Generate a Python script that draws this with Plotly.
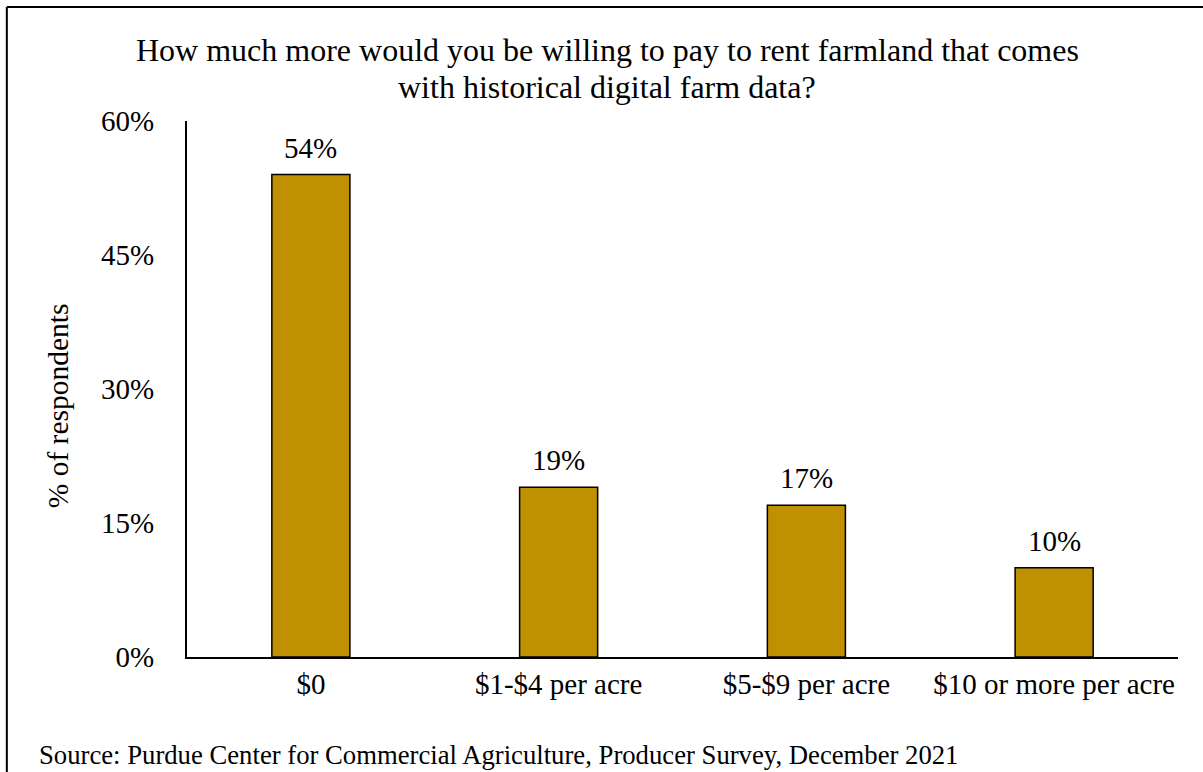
import plotly.graph_objects as go

# Survey responses
categories = ["$0", "$1-$4 per acre", "$5-$9 per acre", "$10 or more per acre"]
shares = [54, 19, 17, 10]
share_labels = ["54%", "19%", "17%", "10%"]
y_ticks = [0, 15, 30, 45, 60]
y_tick_labels = ["0%", "15%", "30%", "45%", "60%"]

FONT = "Liberation Serif, Times New Roman, serif"
BAR_COLOR = "#BF9000"
TEXT_SIZE = 29

fig = go.Figure(
    go.Bar(
        x=categories,
        y=shares,
        marker=dict(color=BAR_COLOR, line=dict(color="black", width=1.5)),
        width=0.315,
        hoverinfo="skip",
    )
)

# Value labels above each bar
for cat, val, lab in zip(categories, shares, share_labels):
    fig.add_annotation(
        x=cat, y=val, text=lab, showarrow=False,
        yanchor="bottom", yshift=9,
        font=dict(family=FONT, size=TEXT_SIZE, color="black"),
    )

# Two-line chart heading
heading = [
    ("How much more would you be willing to pay to rent farmland that comes", 1.1325),
    ("with historical digital farm data?", 1.0634),
]
for line, ypos in heading:
    fig.add_annotation(
        xref="paper", yref="paper", x=0.4242, y=ypos,
        xanchor="center", yanchor="middle", text=line, showarrow=False,
        font=dict(family=FONT, size=32, color="black"),
    )

# Vertical axis title
fig.add_annotation(
    xref="paper", yref="paper", x=-0.130, y=0.468,
    xanchor="center", yanchor="middle", textangle=-90,
    text="% of respondents", showarrow=False,
    font=dict(family=FONT, size=29.5, color="black"),
)

# Source note
fig.add_annotation(
    xref="paper", yref="paper", x=-0.1515, y=-0.183,
    xanchor="left", yanchor="middle",
    text="Source: Purdue Center for Commercial Agriculture, Producer Survey, December 2021",
    showarrow=False, font=dict(family=FONT, size=26.7, color="black"),
)

# Outer frame (left and top edges)
fig.add_shape(type="line", xref="paper", yref="paper",
              x0=-0.1818, x1=-0.1818, y0=1.2127, y1=-0.3,
              line=dict(color="black", width=2))
fig.add_shape(type="line", xref="paper", yref="paper",
              x0=-0.1818, x1=1.1, y0=1.2127, y1=1.2127,
              line=dict(color="black", width=2))

fig.update_layout(
    width=1203, height=772,
    margin=dict(l=187, r=25, t=121, b=115),
    paper_bgcolor="white", plot_bgcolor="white",
    showlegend=False,
    xaxis=dict(
        showline=True, linecolor="black", linewidth=2,
        ticks="", showgrid=False,
        tickfont=dict(family=FONT, size=TEXT_SIZE, color="black"),
    ),
    yaxis=dict(
        range=[0, 60], tickvals=y_ticks, ticktext=y_tick_labels,
        showline=True, linecolor="black", linewidth=2,
        ticks="", showgrid=False, zeroline=False,
        ticklabelstandoff=25,
        tickfont=dict(family=FONT, size=TEXT_SIZE, color="black"),
    ),
)

fig.write_html("out.html")
